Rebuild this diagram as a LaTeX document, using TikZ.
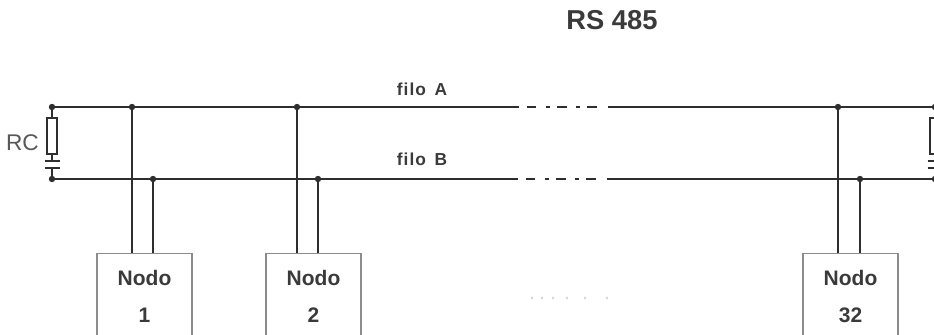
\documentclass[tikz,border=0pt]{standalone}
\usepackage{fontspec}
\setmainfont{Liberation Sans}
\usetikzlibrary{positioning}
\definecolor{wire}{HTML}{2E2E2E}
\definecolor{ink}{HTML}{3A3A3A}
\definecolor{boxline}{HTML}{8C8C8C}

\begin{document}
\begin{tikzpicture}[x=0.75pt,y=-0.75pt,
    line/.style={wire,line width=1.6pt},
    nodebox/.style={draw=boxline,line width=1pt,anchor=north,inner sep=0pt,
      minimum width=71.25pt,minimum height=64.5pt,align=center,text=ink,
      font=\fontsize{15.75}{27.75}\selectfont\bfseries},
    wirelabel/.style={anchor=base,text=ink,
      font=\fontsize{13}{15}\selectfont\bfseries\addfontfeature{LetterSpace=6}}]
    \useasboundingbox (0,0) rectangle (934,335);
    % bus ends
    \path (52,107) coordinate (aL); \path (52,179) coordinate (bL);
    \path (945,107) coordinate (aR); \path (945,179) coordinate (bR);
    \path (519,107) coordinate (aG1); \path (608,107) coordinate (aG2);
    \path (518,179) coordinate (bG1); \path (607,179) coordinate (bG2);
    % filo A and filo B
    \draw[line] (aL) -- (aG1) (aG2) -- (aR);
    \draw[line] (bL) -- (bG1) (bG2) -- (bR);
    \draw[line,dash pattern=on 6.75pt off 7.5pt on 3pt off 5.25pt on 7.5pt off 6.75pt on 3pt off 5.25pt on 7.5pt off 10pt]
    ([xshift=6pt]aG1) -- ([xshift=-8.25pt]aG2);
    \draw[line,dash pattern=on 6.75pt off 7.5pt on 3pt off 5.25pt on 7.5pt off 6.75pt on 3pt off 5.25pt on 7.5pt off 10pt]
    ([xshift=6pt]bG1) -- ([xshift=-8.25pt]bG2);
    % termination RC at both ends
    \foreach \x in {52,935} {
      \draw[line] (\x,107) -- (\x,118);
      \draw[wire,line width=1.5pt] (\x-5,118) rectangle (\x+5,154);
      \draw[line] (\x,154) -- (\x,161);
      \draw[line] (\x-7.5,161) -- (\x+7.5,161);
      \draw[line] (\x-7.5,168) -- (\x+7.5,168);
      \draw[line] (\x,168) -- (\x,179);
      \fill[wire] (\x,107) circle (2.4pt) (\x,179) circle (2.4pt);
    }
    % nodes on the bus
    \foreach \n/\xa/\xb/\xc in {1/132/153/144.5, 2/297/318/313.5, 32/838/860/850.5} {
      \node[nodebox] (n\n) at (\xc,253) {Nodo\\\n};
      \path (\xa,107) coordinate (a\n); \path (\xb,179) coordinate (b\n);
      \draw[line] (a\n) -- (a\n |- n\n.north);
      \draw[line] (b\n) -- (b\n |- n\n.north);
      \fill[wire] (a\n) circle (2.4pt) (b\n) circle (2.4pt);
    }
    \foreach \x in {532,542,553,567,585,607} \fill[gray!35] (\x,298) circle (1pt);
    % labels
    \node[anchor=base,text=ink,font=\fontsize{20.5}{24}\selectfont\bfseries] (title) at (612,30) {RS 485};
    \node[anchor=base,text=ink!85,font=\fontsize{17}{20}\selectfont] (rc) at (22.5,150) {RC};
    \node[wirelabel] (filoA) at (422,95) {filo\enspace A};
    \node[wirelabel] (filoB) at (422,165) {filo\enspace B};
  \end{tikzpicture}
\end{document}
